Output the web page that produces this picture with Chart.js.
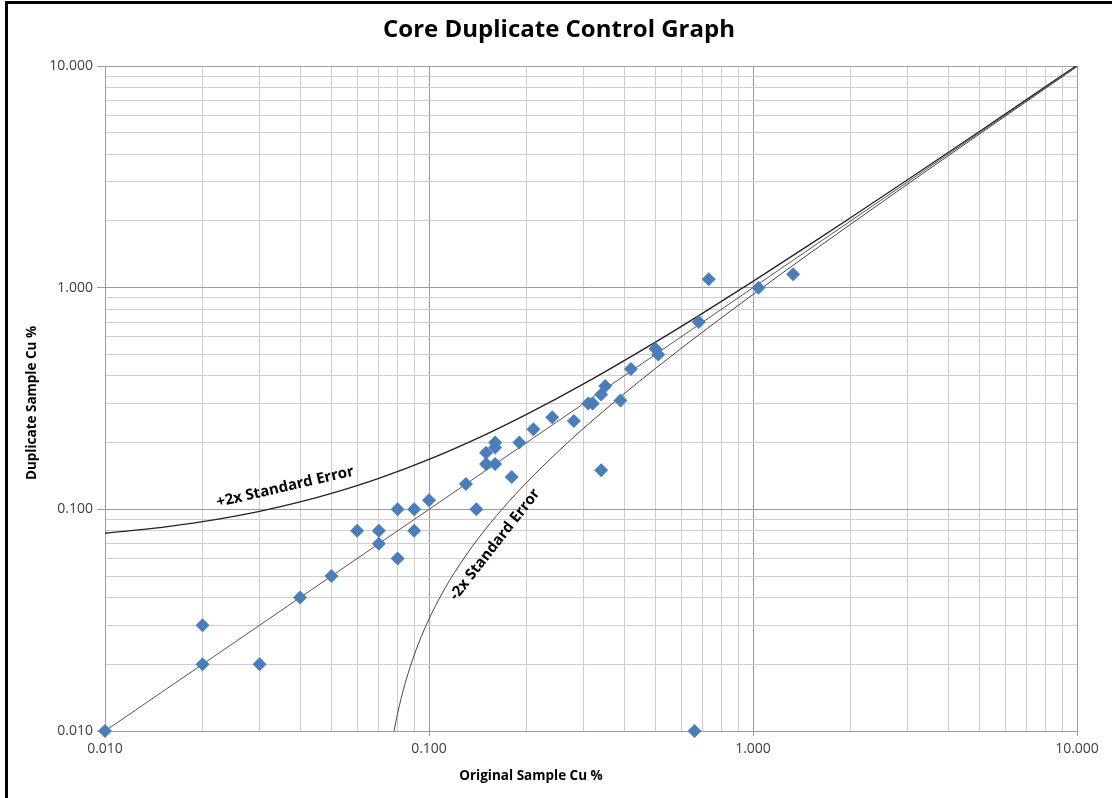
<!DOCTYPE html>
<html><head><meta charset="utf-8">
<script src="https://cdn.jsdelivr.net/npm/chart.js@4/dist/chart.umd.min.js"></script>
<style>
html,body{margin:0;padding:0;background:#fff;overflow:hidden}
#wrap{position:relative;width:1112px;height:798px}
#frame{position:absolute;left:5px;top:1px;width:1200px;height:900px;border-left:3px solid #000;border-top:3px solid #000;pointer-events:none}
</style></head>
<body><div id="wrap"><canvas id="c" width="1112" height="798"></canvas><div id="frame"></div></div>
<script>
const chartTitle = 'Core Duplicate Control Graph';
const xAxisTitle = 'Original Sample Cu %';
const yAxisTitle = 'Duplicate Sample Cu %';
const upperLabel = '+2x Standard Error';
const lowerLabel = '-2x Standard Error';

const tickValues = [0.01, 0.1, 1, 10];
const tickLabels = ['0.010', '0.100', '1.000', '10.000'];
const minorSteps = [1, 2, 3, 4, 5, 6, 7, 8, 9];

const originalCu  = [0.01, 0.02, 0.02, 0.03, 0.04, 0.05, 0.06, 0.07, 0.07, 0.08, 0.08, 0.09, 0.09, 0.10, 0.13, 0.14, 0.15, 0.15, 0.16, 0.16, 0.16, 0.18, 0.19, 0.21, 0.24, 0.28, 0.31, 0.32, 0.34, 0.35, 0.34, 0.39, 0.42, 0.50, 0.51, 0.68, 0.73, 1.04, 1.33, 0.66];
const duplicateCu = [0.01, 0.03, 0.02, 0.02, 0.04, 0.05, 0.08, 0.08, 0.07, 0.10, 0.06, 0.10, 0.08, 0.11, 0.13, 0.10, 0.18, 0.16, 0.20, 0.19, 0.16, 0.14, 0.20, 0.23, 0.26, 0.25, 0.30, 0.30, 0.33, 0.36, 0.15, 0.31, 0.43, 0.53, 0.50, 0.70, 1.09, 1.00, 1.15, 0.01];

const identityX = [0.01, 10];
const identityY = [0.01, 10];

const plusSEx = [0.01, 0.015, 0.02, 0.03, 0.04, 0.05, 0.07, 0.1, 0.15, 0.2, 0.3, 0.5, 0.7, 1, 1.5, 2, 3, 5, 10];
const plusSEy = [0.078, 0.083, 0.088, 0.098, 0.108, 0.118, 0.138, 0.168, 0.218, 0.268, 0.368, 0.568, 0.768, 1.068, 1.568, 2.068, 3.068, 5.068, 10.068];

const minusSEx = [0.078, 0.079, 0.080, 0.082, 0.085, 0.09, 0.095, 0.1, 0.11, 0.12, 0.14, 0.17, 0.2, 0.25, 0.3, 0.4, 0.5, 0.7, 1, 1.5, 2, 3, 5, 10];
const minusSEy = [0.010, 0.011, 0.012, 0.014, 0.017, 0.022, 0.027, 0.032, 0.042, 0.052, 0.072, 0.102, 0.132, 0.182, 0.232, 0.332, 0.432, 0.632, 0.932, 1.432, 1.932, 2.932, 4.932, 9.932];

const toPts = (xs, ys) => xs.map((x, i) => ({x: x, y: ys[i]}));
const isMajor = v => Math.abs(Math.log10(v) - Math.round(Math.log10(v))) < 1e-6;
const labelFor = v => {
  for (let i = 0; i < tickValues.length; i++) if (Math.abs(v - tickValues[i]) / tickValues[i] < 1e-6) return tickLabels[i];
  return '';
};
const gridTicks = [];
tickValues.forEach((d, i) => {
  if (i === tickValues.length - 1) { gridTicks.push({value: d}); return; }
  minorSteps.forEach(m => gridTicks.push({value: +(d * m).toPrecision(6)}));
});

const textPlugin = {
  id: 'texts',
  afterDatasetsDraw(chart) {
    const ctx = chart.ctx, xs = chart.scales.x, ys = chart.scales.y;
    ctx.save();
    ctx.fillStyle = '#000';
    ctx.textAlign = 'center';
    ctx.textBaseline = 'middle';
    ctx.font = 'bold 15px "Open Sans", sans-serif';
    const lab = (txt, vx, vy, ang, dx, dy) => {
      ctx.save();
      ctx.translate(xs.getPixelForValue(vx) + dx, ys.getPixelForValue(vy) + dy);
      ctx.rotate(ang * Math.PI / 180);
      ctx.fillText(txt, 0, 0);
      ctx.restore();
    };
    lab(upperLabel, 0.036, 0.126, -13, 0, 0);
    lab(lowerLabel, 0.152, 0.073, -52, 7, 5);
    ctx.restore();
  },
  afterDraw(chart) {
    const ctx = chart.ctx;
    ctx.save();
    ctx.fillStyle = '#000';
    ctx.textAlign = 'center';
    ctx.textBaseline = 'middle';
    ctx.font = 'bold 24px "Open Sans", sans-serif';
    ctx.fillText(chartTitle, 559, 30);
    ctx.font = 'bold 13.5px "Open Sans", sans-serif';
    ctx.fillText(xAxisTitle, 531, 776);
    ctx.save();
    ctx.translate(32, 403);
    ctx.rotate(-Math.PI / 2);
    ctx.fillText(yAxisTitle, 0, 0);
    ctx.restore();
    ctx.restore();
  }
};

const gridColor = c => (c.tick && isMajor(c.tick.value)) ? '#9c9c9c' : '#cdcdcd';
const tickMarkColor = c => (c.tick && isMajor(c.tick.value)) ? '#9c9c9c' : 'rgba(0,0,0,0)';
const setTicks = s => { s.ticks = gridTicks.map(t => ({value: t.value, major: isMajor(t.value)})); };

new Chart(document.getElementById('c'), {
  type: 'scatter',
  data: {
    datasets: [
      {label: 'Samples', data: toPts(originalCu, duplicateCu), pointStyle: 'rectRot', pointRadius: 7, backgroundColor: '#4A7EBB', borderColor: '#4A7EBB', borderWidth: 0, clip: false, order: 0},
      {label: '1:1', data: toPts(identityX, identityY), showLine: true, pointRadius: 0, borderColor: '#555555', borderWidth: 1, order: 1},
      {label: '+2SE', data: toPts(plusSEx, plusSEy), showLine: true, pointRadius: 0, borderColor: '#222222', borderWidth: 1.3, cubicInterpolationMode: 'monotone', order: 2},
      {label: '-2SE', data: toPts(minusSEx, minusSEy), showLine: true, pointRadius: 0, borderColor: '#444444', borderWidth: 1, cubicInterpolationMode: 'monotone', order: 3}
    ]
  },
  options: {
    responsive: false,
    animation: false,
    devicePixelRatio: 1,
    layout: {padding: {top: 66, right: 35, left: 0, bottom: 0}},
    plugins: {legend: {display: false}, tooltip: {enabled: false}, title: {display: false}},
    scales: {
      x: {
        type: 'logarithmic', min: 0.01, max: 10,
        afterBuildTicks: setTicks,
        afterFit: s => { s.height = 67; },
        grid: {color: gridColor, tickColor: tickMarkColor, tickLength: 5, lineWidth: 1},
        border: {color: '#9c9c9c'},
        ticks: {autoSkip: false, maxRotation: 0, padding: 5, color: '#404040', font: {family: '"Open Sans", sans-serif', size: 14}, callback: v => labelFor(v)}
      },
      y: {
        type: 'logarithmic', min: 0.01, max: 10,
        afterBuildTicks: setTicks,
        afterFit: s => { s.width = 105; },
        grid: {color: gridColor, tickColor: tickMarkColor, tickLength: 8, lineWidth: 1},
        border: {color: '#9c9c9c'},
        ticks: {autoSkip: false, padding: 4, color: '#404040', font: {family: '"Open Sans", sans-serif', size: 14}, callback: v => labelFor(v)}
      }
    }
  },
  plugins: [textPlugin]
});
</script>
</body></html>
